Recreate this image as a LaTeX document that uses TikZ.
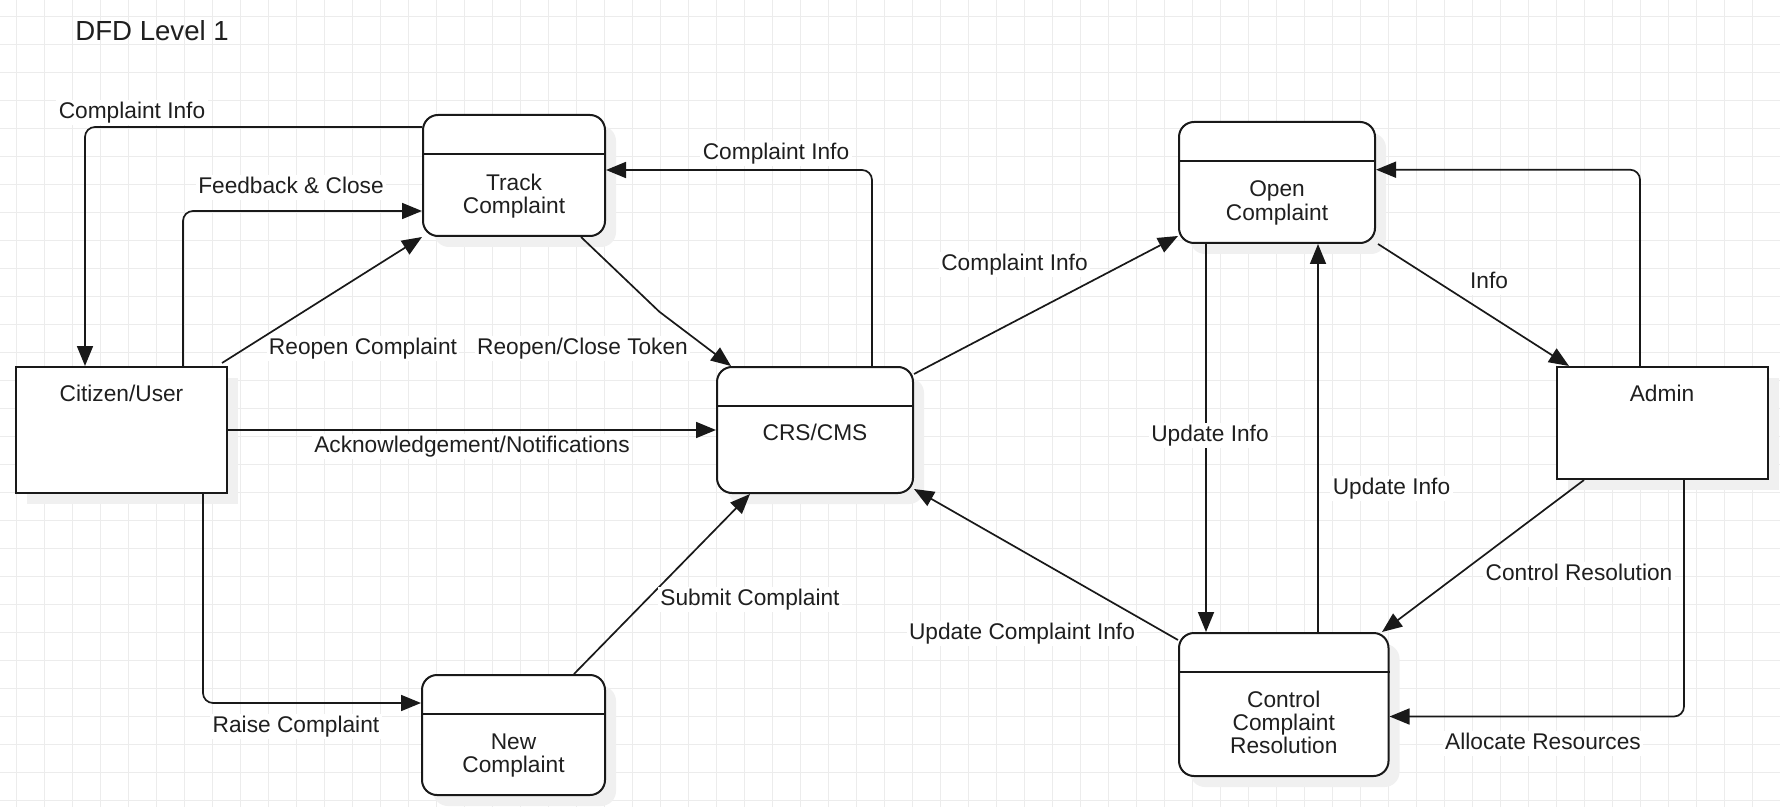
\documentclass[tikz,border=0pt]{standalone}
\usepackage{fontspec}
\setmainfont{Liberation Sans}
\usetikzlibrary{arrows.meta,calc,shadows}
\newcommand\mylblfont{\fontsize{11.35pt}{11.6pt}\selectfont}
\newcommand\mytitlefont{\fontsize{13.8pt}{16pt}\selectfont}
\begin{document}
\begin{tikzpicture}[x=0.5pt,y=-0.5pt,
  gridline/.style={draw=gray!15, line width=0.6pt},
  shade/.style={drop shadow={shadow xshift=5.5pt, shadow yshift=-5.5pt, fill=gray!12, opacity=1}},
  procbox/.style={draw=black!90, line width=1pt, fill=white, rounded corners=7.5pt, inner sep=0pt, shade},
  entbox/.style={draw=black!90, line width=1pt, fill=white, inner sep=0pt, shade},
  divline/.style={draw=black!90, line width=1pt},
  flow/.style={draw=black!90, line width=0.85pt, -{Triangle[length=10pt,width=8pt]}, rounded corners=5pt},
  plainflow/.style={draw=black!90, line width=0.85pt, -{Triangle[length=10pt,width=8pt]}},
  lbl/.style={fill=white, inner sep=1.2pt, text depth=0.21em, yshift=-0.8pt, text=black!88, font=\mylblfont},
  boxtext/.style={align=center, inner sep=0pt, text depth=0.21em, yshift=-0.8pt, text=black!88, font=\mylblfont}
]
\useasboundingbox (0,0) rectangle (1780,807);
\fill[white] (0,0) rectangle (1780,807);
% grid
\foreach \k in {0,...,62} \draw[gridline] ({16.6+28*\k},0) -- ({16.6+28*\k},807);
\foreach \k in {0,...,28} \draw[gridline] (0,{16.7+28*\k}) -- (1780,{16.7+28*\k});

% title
\node[anchor=west, inner sep=0pt, text=black!88, font=\mytitlefont] (title) at (75,31) {DFD Level 1};

% boxes
\node[entbox, minimum width=105.5pt, minimum height=63pt] (citizen) at (121.5,430) {};
\node[entbox, minimum width=105.25pt, minimum height=56pt] (admin) at (1662.25,423) {};
\node[procbox, minimum width=91pt, minimum height=60.5pt] (track) at (514,175.5) {};
\node[procbox, minimum width=91.5pt, minimum height=60pt] (new) at (513.5,735) {};
\node[procbox, minimum width=98pt, minimum height=63pt] (crs) at (815,430) {};
\node[procbox, minimum width=98pt, minimum height=60.5pt] (open) at (1277,182.5) {};
\node[procbox, minimum width=104.75pt, minimum height=71.5pt] (control) at (1283.75,704.5) {};

% dividers
\foreach \b in {track,new,crs,open,control}
  \draw[divline] ([yshift=-20pt]\b.north west) -- ([yshift=-20pt]\b.north east);

% box texts
\node[boxtext] (citizenT) at (121.5,394) {Citizen/User};
\node[boxtext] (adminT) at (1662,394) {Admin};
\node[boxtext] (trackT) at (514,194) {Track\\Complaint};
\node[boxtext] (newT) at (513.5,753.5) {New\\Complaint};
\node[boxtext] (crsT) at (815,433) {CRS/CMS};
\node[boxtext] (openT) at (1277,201) {Open\\Complaint};
\node[boxtext] (controlT) at (1283.75,723) {Control\\Complaint\\Resolution};

% connectors
\draw[flow] ([yshift=-6.5pt]track.north west) -| ([xshift=35pt]citizen.north west);
\draw[flow] ([xshift=84pt]citizen.north west) |- ([yshift=-48.5pt]track.north west);
\draw[plainflow] ([xshift=-3pt,yshift=1.5pt]citizen.north east) -- (track.south west);
\draw[plainflow] ([xshift=79.5pt]track.south west) -- (659.3,311.7) -- ([xshift=7.5pt]crs.north west);
\draw[plainflow] (citizen.east) -- (crs.west);
\draw[flow] ([xshift=-12.5pt]citizen.south east) |- ([yshift=16pt]new.west);
\draw[plainflow] ([xshift=76.5pt]new.north west) -- ([xshift=17pt]crs.south west);
\draw[flow] ([xshift=-21pt]crs.north east) |- ([yshift=-28pt]track.north east);
\draw[plainflow] ([yshift=-4pt]crs.north east) -- ([yshift=4pt]open.south west);
\draw[plainflow] ([xshift=1pt]open.south east) -- ([xshift=6.5pt]admin.north west);
\draw[flow] ([xshift=42pt]admin.north west) |- ([yshift=-24.35pt]open.north east);
\draw[plainflow] ([xshift=14pt]open.south west) -- ([xshift=14pt]control.north west);
\draw[plainflow] ([xshift=70pt]control.north west) -- ([xshift=70pt]open.south west);
\draw[plainflow] ([yshift=-4pt]control.north west) -- ([yshift=2.5pt]crs.south east);
\draw[plainflow] ([xshift=14pt]admin.south west) -- ([xshift=-3.75pt]control.north east);
\draw[flow] ([xshift=-42.25pt]admin.south east) |- ([yshift=-6pt]control.east);

% labels
\node[lbl] (l1) at (132,111) {Complaint Info};
\node[lbl] (l2) at (291,186) {Feedback \& Close};
\node[lbl] (l3) at (363,347) {Reopen Complaint};
\node[lbl] (l4) at (582.5,347) {Reopen/Close Token};
\node[lbl] (l5) at (472,445) {Acknowledgement/Notifications};
\node[lbl] (l6) at (296,725) {Raise Complaint};
\node[lbl] (l7) at (750,598) {Submit Complaint};
\node[lbl] (l8) at (776,152) {Complaint Info};
\node[lbl] (l9) at (1014.5,263) {Complaint Info};
\node[lbl] (l10) at (1489,281) {Info};
\node[lbl] (l11) at (1210,434) {Update Info};
\node[lbl] (l12) at (1391.5,487) {Update Info};
\node[lbl] (l13) at (1022,632) {Update Complaint Info};
\node[lbl] (l14) at (1579,573) {Control Resolution};
\node[lbl] (l15) at (1543,742) {Allocate Resources};
\end{tikzpicture}
\end{document}
